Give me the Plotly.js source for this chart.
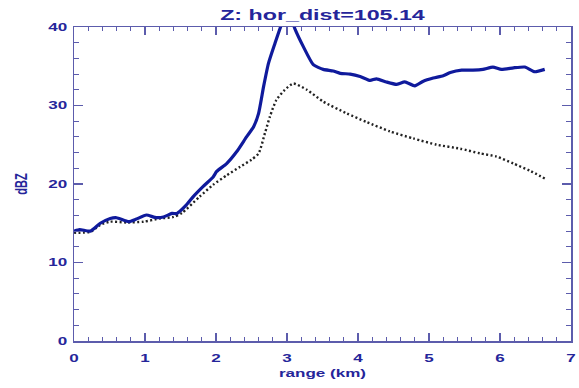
<!DOCTYPE html>
<html>
<head>
<meta charset="utf-8">
<script src="https://cdn.plot.ly/plotly-3.0.1.min.js"></script>
<style>
  html, body { margin: 0; padding: 0; background: #ffffff; }
  #chart { width: 579px; height: 388px; }
</style>
</head>
<body>
<div id="chart"></div>
<script>
// Reflectivity profile along range
const rangeSolid = [0.0, 0.08, 0.23, 0.37, 0.51, 0.6, 0.77, 0.87, 1.02, 1.14, 1.26, 1.38, 1.45, 1.58, 1.68, 1.82, 1.96, 2.01, 2.15, 2.29, 2.43, 2.53, 2.6, 2.67, 2.74, 2.83, 2.93, 3.02, 3.11, 3.23, 3.37, 3.51, 3.65, 3.75, 3.89, 4.03, 4.17, 4.26, 4.4, 4.54, 4.66, 4.8, 4.92, 5.06, 5.2, 5.3, 5.46, 5.62, 5.76, 5.9, 6.02, 6.19, 6.35, 6.49, 6.63];
const dbzSolid = [14.0, 14.2, 14.0, 15.0, 15.6, 15.7, 15.2, 15.5, 16.05, 15.75, 15.8, 16.25, 16.25, 17.3, 18.4, 19.7, 20.9, 21.6, 22.6, 24.1, 26.0, 27.3, 29.0, 32.4, 35.4, 37.9, 40.5, 42.0, 39.8, 37.5, 35.2, 34.6, 34.4, 34.1, 34.0, 33.7, 33.2, 33.4, 33.0, 32.7, 33.0, 32.5, 33.1, 33.5, 33.8, 34.2, 34.5, 34.5, 34.6, 34.9, 34.6, 34.8, 34.9, 34.3, 34.6];

const rangeDotted = [0.0, 0.23, 0.37, 0.51, 0.74, 0.98, 1.21, 1.4, 1.52, 1.77, 1.96, 2.15, 2.34, 2.5, 2.6, 2.69, 2.76, 2.85, 2.97, 3.09, 3.28, 3.51, 3.84, 4.12, 4.45, 4.78, 5.11, 5.44, 5.72, 5.95, 6.19, 6.42, 6.63];
const dbzDotted = [13.8, 13.9, 14.8, 15.2, 15.1, 15.2, 15.6, 15.8, 16.3, 18.4, 19.9, 21.1, 22.2, 23.1, 23.9, 26.5, 28.6, 30.7, 32.0, 32.8, 32.0, 30.5, 29.0, 27.9, 26.7, 25.8, 25.0, 24.5, 23.9, 23.5, 22.6, 21.7, 20.7];

const axisColor = '#5c5cac';
const textColor = '#25259a';
const family = 'Liberation Sans, Arial, sans-serif';
const font = { family: family, size: 11, color: textColor, weight: 'bold' };
// horizontal stretch applied to every label (wide plot-device lettering)
const TEXT_STRETCH = 1.55;

const traces = [
  {
    x: rangeDotted, y: dbzDotted, mode: 'lines', type: 'scatter',
    line: { color: '#222222', width: 2.4, dash: '2px,2.4px', shape: 'spline', smoothing: 0.6 },
    hoverinfo: 'skip'
  },
  {
    x: rangeSolid, y: dbzSolid, mode: 'lines', type: 'scatter',
    line: { color: '#0f1a9c', width: 3.2, shape: 'spline', smoothing: 0.5 },
    hoverinfo: 'skip'
  }
];

const layout = {
  width: 579, height: 388,
  margin: { l: 74, r: 8, t: 27, b: 47 },
  paper_bgcolor: '#ffffff', plot_bgcolor: '#ffffff',
  showlegend: false,
  font: font,
  title: {
    text: 'Z: hor_dist=105.14',
    font: { family: family, size: 15, color: textColor, weight: 'bold' },
    xref: 'paper', x: 0.5, xanchor: 'center',
    yref: 'container', y: 0.962, yanchor: 'middle'
  },
  xaxis: {
    range: [0, 7], tick0: 0, dtick: 1,
    showgrid: false, zeroline: false,
    showline: true, linecolor: axisColor, linewidth: 1.5, mirror: 'ticks',
    ticks: 'inside', ticklen: 8, tickwidth: 1.3, tickcolor: axisColor,
    ticklabelstandoff: 6,
    minor: { dtick: 0.2, ticks: 'inside', ticklen: 4, tickwidth: 1, tickcolor: axisColor, showgrid: false },
    tickfont: font,
    title: { text: 'range (km)', font: font, standoff: 6 }
  },
  yaxis: {
    range: [0, 40], tick0: 0, dtick: 10,
    showgrid: false, zeroline: false,
    showline: true, linecolor: axisColor, linewidth: 1.5, mirror: 'ticks',
    ticks: 'inside', ticklen: 9, tickwidth: 1.3, tickcolor: axisColor,
    ticklabelstandoff: 3,
    minor: { dtick: 2, ticks: 'inside', ticklen: 5, tickwidth: 1, tickcolor: axisColor, showgrid: false },
    tickfont: font,
    title: { text: 'dBZ', font: font, standoff: 25 }
  }
};

function stretchLabels(gd) {
  gd.querySelectorAll('text').forEach(function (t) {
    const x = parseFloat(t.getAttribute('x')) || 0;
    const y = parseFloat(t.getAttribute('y')) || 0;
    const prev = t.getAttribute('transform') || '';
    const rotated = /rotate\(\s*-?90/.test(prev);
    const sc = rotated ? 'scale(1,' + TEXT_STRETCH + ')' : 'scale(' + TEXT_STRETCH + ',1)';
    t.setAttribute('transform', prev + ' translate(' + x + ',' + y + ') ' + sc + ' translate(' + (-x) + ',' + (-y) + ')');
  });
}

Plotly.newPlot('chart', traces, layout, { staticPlot: true, displayModeBar: false })
  .then(stretchLabels);
</script>
</body>
</html>
